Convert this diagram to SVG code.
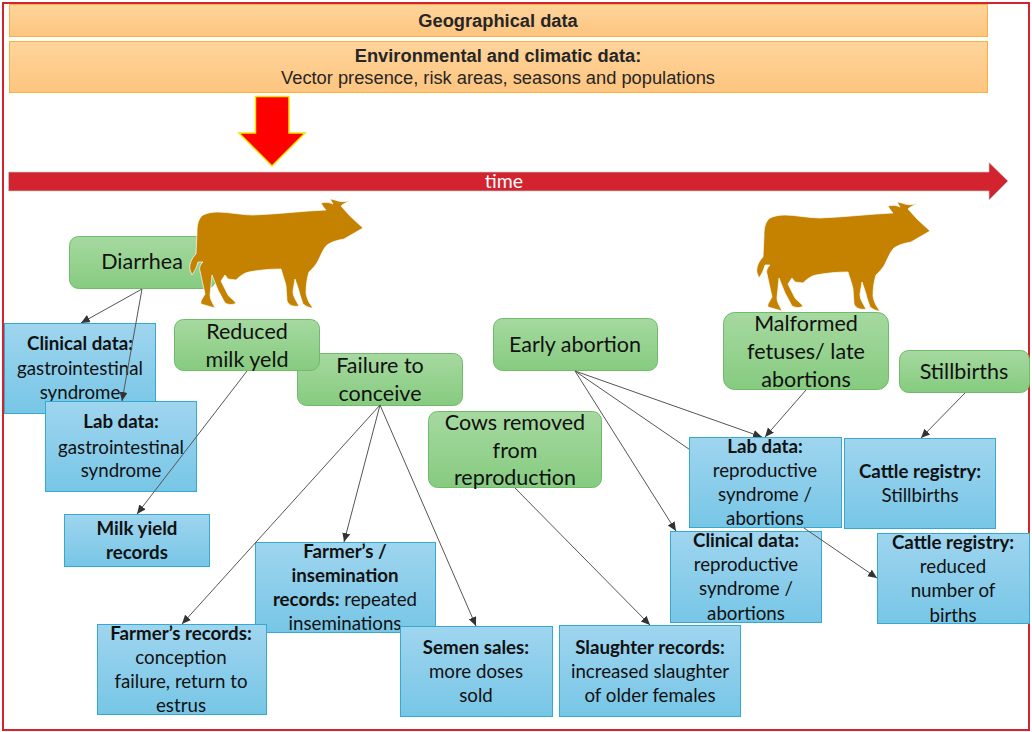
<svg xmlns="http://www.w3.org/2000/svg" xmlns:xlink="http://www.w3.org/1999/xlink" width="1032" height="732" viewBox="0 0 1032 732">
<style>
text{font-family:"Lato","Open Sans",sans-serif;fill:#111;text-anchor:middle}
.h{font-family:"Liberation Sans",Arial,sans-serif;fill:#262626;font-size:18.3px}
.b{font-weight:700}
.t{font-size:18.7px}
.g{font-size:21.5px}
.o{fill:url(#og);stroke:#fbb040;stroke-width:1}
.gr{fill:url(#gg);stroke:#6fbb6a;stroke-width:1}
.bl{fill:url(#bg);stroke:#35a9d0;stroke-width:1}
.c{stroke:#555;stroke-width:1;fill:none;marker-end:url(#ah)}
.cow{fill:#c58100;stroke:#fff;stroke-width:1;stroke-opacity:.7}
</style>
<defs>
<linearGradient id="og" x1="0" y1="0" x2="0" y2="1"><stop offset="0" stop-color="#fed49b"/><stop offset="1" stop-color="#fdc57f"/></linearGradient>
<linearGradient id="gg" x1="0" y1="0" x2="0" y2="1"><stop offset="0" stop-color="#a6d9a0"/><stop offset="1" stop-color="#86cb80"/></linearGradient>
<linearGradient id="bg" x1="0" y1="0" x2="0" y2="1"><stop offset="0" stop-color="#9fd5ef"/><stop offset="1" stop-color="#77c6e6"/></linearGradient>
<marker id="ah" markerUnits="userSpaceOnUse" markerWidth="10" markerHeight="10" refX="9" refY="4" orient="auto"><path d="M0 0L9 4L0 8Z" fill="#333"/></marker>
<path id="cowp" d="M770 218C765 222 764 228 764 235L763 257C758 262 756 268 757 273L759 278C762 274 764 269 765 265L770 265C767 268 766 271 767 274L772 297C770 301 767 304 768 307L782 311C780 306 777 303 777 298L779 278L785 293L792 306C796 308 800 308 803 306C800 302 797 301 795 298L788 284L792 278L795 282L803 283C807 279 811 276 816 275C826 273 837 272 848 272C850 279 852 284 853 289L854 304C856 309 862 310 866 309C863 303 860 300 860 294L862 282C864 288 866 293 867 298L870 307C874 310 877 311 880 311C876 306 874 302 873 296C873 289 874 281 876 275C880 271 883 268 885 264C888 258 890 252 894 248C900 244 906 243 911 242L930 231L917 219L908 209C911 206 915 205 918 203C913 205 909 205 905 204C902 203 899 202 897 202L900 207C896 205 892 205 888 206C889 208 891 211 893 213C870 214 845 217 820 218C808 218 796 215 785 215C779 215 774 216 770 218Z"/>
</defs>
<rect x="0" y="0" width="1032" height="732" fill="#fff"/>
<rect x="3" y="3" width="1026" height="727" fill="none" stroke="#d2232f" stroke-width="2"/>
<g id="geo"><rect class="o" x="9.500" y="4.500" width="978" height="32"/><text class="h b" x="498" y="27">Geographical data</text></g>
<g id="env"><rect class="o" x="9.500" y="41.500" width="978" height="51"/><text class="h b" x="498" y="62">Environmental and climatic data:</text><text class="h" x="498" y="84">Vector presence, risk areas, seasons and populations</text></g>
<g id="red-arrow"><path d="M255.500 96.500H289V133H305L272 166L239 133H255.500Z" fill="#f00" stroke="#f5e400" stroke-width="1.500"/></g>
<g id="time"><path d="M8.500 172H989V162.500L1008 181L989 200V191H8.500Z" fill="#d2232f" stroke="#c9c9c9" stroke-width=".7"/><text x="504" y="188" font-size="19.500" style="fill:#fff">time</text></g>

<g id="diarrhea"><rect class="gr" x="69.500" y="236.500" width="146" height="52" rx="9"/><text class="g" x="142" y="269">Diarrhea</text></g>
<g id="cow1"><use href="#cowp" class="cow" transform="translate(-567 -3)"/></g>
<g id="failure"><rect class="gr" x="297.500" y="353.500" width="165" height="52" rx="9"/><text class="g" x="380" y="373">Failure to</text><text class="g" x="380" y="401">conceive</text></g>
<g id="milk"><rect class="gr" x="174.500" y="319.500" width="145" height="51" rx="9"/><text class="g" x="247" y="339">Reduced</text><text class="g" x="247" y="367">milk yeld</text></g>
<g id="early"><rect class="gr" x="493.500" y="318.500" width="164" height="52" rx="9"/><text class="g" x="575" y="352">Early abortion</text></g>
<g id="removed"><rect class="gr" x="428.500" y="411.500" width="173" height="76" rx="9"/><text class="g" x="515" y="430">Cows removed</text><text class="g" x="515" y="458">from</text><text class="g" x="515" y="485">reproduction</text></g>
<g id="cow2"><use href="#cowp" class="cow"/></g>
<g id="malformed"><rect class="gr" x="723.500" y="312.500" width="165" height="77" rx="11"/><text class="g" x="806" y="331">Malformed</text><text class="g" x="806" y="359">fetuses/ late</text><text class="g" x="806" y="387">abortions</text></g>
<g id="stillbirths"><rect class="gr" x="899.500" y="350.500" width="130" height="42" rx="9"/><text class="g" x="964" y="379">Stillbirths</text></g>

<g id="clin1"><rect class="bl" x="4.500" y="323.500" width="151" height="90"/><text class="t b" x="80" y="350">Clinical data:</text><text class="t" x="80" y="375">gastrointestinal</text><text class="t" x="80" y="399">syndrome</text></g>
<g id="lab1"><rect class="bl" x="45.500" y="401.500" width="151" height="90"/><text class="t b" x="121" y="428">Lab data:</text><text class="t" x="121" y="454">gastrointestinal</text><text class="t" x="121" y="477">syndrome</text></g>
<g id="milkrec"><rect class="bl" x="64.500" y="514.500" width="145" height="52"/><text class="t b" x="137" y="535">Milk yield</text><text class="t b" x="137" y="559">records</text></g>
<g id="insem"><rect class="bl" x="255.500" y="542.500" width="180" height="90"/><text class="t b" x="345" y="558">Farmer’s /</text><text class="t b" x="345" y="582">insemination</text><text class="t" x="345" y="606"><tspan class="b">records:</tspan> repeated</text><text class="t" x="345" y="630">inseminations</text></g>
<g id="farmer"><rect class="bl" x="97.500" y="624.500" width="169" height="90"/><text class="t b" x="181" y="640">Farmer’s records:</text><text class="t" x="181" y="664">conception</text><text class="t" x="181" y="688">failure, return to</text><text class="t" x="181" y="712">estrus</text></g>
<g id="semen"><rect class="bl" x="400.500" y="626.500" width="152" height="90"/><text class="t b" x="476" y="654">Semen sales:</text><text class="t" x="476" y="678">more doses</text><text class="t" x="476" y="702">sold</text></g>
<g id="slaughter"><rect class="bl" x="559.500" y="625.500" width="181" height="91"/><text class="t b" x="650" y="654">Slaughter records:</text><text class="t" x="650" y="678">increased slaughter</text><text class="t" x="650" y="702">of older females</text></g>
<g id="clin2"><rect class="bl" x="670.500" y="531.500" width="151" height="91"/><text class="t b" x="746" y="547">Clinical data:</text><text class="t" x="746" y="571">reproductive</text><text class="t" x="746" y="595">syndrome /</text><text class="t" x="746" y="620">abortions</text></g>
<g id="cattle1"><rect class="bl" x="844.500" y="438.500" width="151" height="90"/><text class="t b" x="920" y="478">Cattle registry:</text><text class="t" x="920" y="502">Stillbirths</text></g>
<g id="cattle2"><rect class="bl" x="877.500" y="533.500" width="152" height="90"/><text class="t b" x="953" y="549">Cattle registry:</text><text class="t" x="953" y="573">reduced</text><text class="t" x="953" y="597">number of</text><text class="t" x="953" y="622">births</text></g>

<g id="connectors">
<path class="c" d="M142 289L81 323"/>
<path class="c" d="M142 289L122 401"/>
<path class="c" d="M247 371L137 514"/>
<path class="c" d="M380 405L182 624"/>
<path class="c" d="M380 405L344 542"/>
<path class="c" d="M380 405L476 626"/>
<path class="c" d="M575 371L676 531"/>
<path class="c" d="M575 371L762 437"/>
<path class="c" d="M575 371L877 578"/>
<path class="c" d="M515 488L650 625"/>
<path class="c" d="M806 390L765 437"/>
<path class="c" d="M965 393L921 438"/>
</g>
<g id="lab2"><rect class="bl" x="689.500" y="437.500" width="152" height="90"/><text class="t b" x="765" y="453">Lab data:</text><text class="t" x="765" y="477">reproductive</text><text class="t" x="765" y="501">syndrome /</text><text class="t" x="765" y="525">abortions</text></g>
</svg>
